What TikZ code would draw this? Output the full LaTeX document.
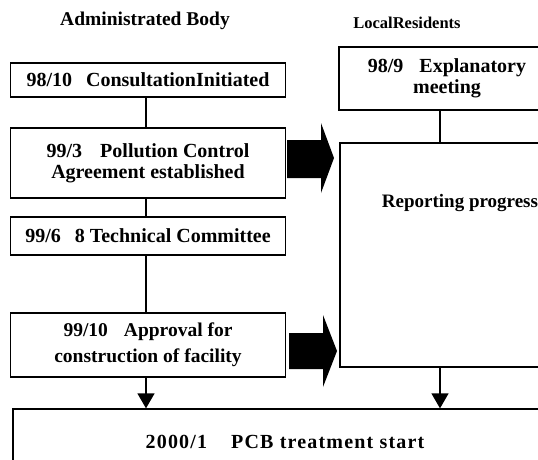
\documentclass[tikz,border=0pt]{standalone}
\usepackage{fontspec}
\setmainfont{Liberation Serif}
\usetikzlibrary{arrows.meta}
\tikzset{
  box/.style={draw, line width=1.3pt, inner sep=0pt, align=center, font=\bfseries\fontsize{20}{21}\selectfont},
  conn/.style={line width=1.3pt},
  arr/.style={line width=1.3pt, -{Triangle[width=17pt,length=15pt]}},
  title/.style={inner sep=0pt, anchor=base, font=\bfseries\fontsize{19.5}{20}\selectfont},
  bigarrow/.style={fill=black, draw=none}
}
\begin{document}
\begin{tikzpicture}[x=1pt,y=-1pt]
\useasboundingbox (0,0) rectangle (538,459);
\clip (0,0) rectangle (538,459);
% column titles
\node[title] (t1) at (145,25) {Administrated Body};
\node[title, font=\bfseries\fontsize{16.5}{18}\selectfont] (t2) at (407,28) {LocalResidents};
% left column
\node[box, minimum width=275pt, minimum height=34pt] (b1) at (148,80) {98/10\hspace{14pt}ConsultationInitiated};
\node[box, minimum width=275pt, minimum height=70pt] (b2) at (148,163) {99/3\hspace{18pt}Pollution Control\\Agreement established};
\node[box, minimum width=275pt, minimum height=38pt] (b3) at (148,236) {99/6\hspace{14pt}8 Technical Committee};
\node[box, minimum width=275pt, minimum height=64pt, font=\bfseries\fontsize{19.5}{26}\selectfont] (b4) at (148,345) {99/10\hspace{16pt}Approval for\\construction of facility};
% right column
\node[box, minimum width=216pt, minimum height=63pt, font=\bfseries\fontsize{20}{21}\selectfont] (er) at (447,78.5) {98/9\hspace{16pt}Explanatory\\meeting};
\node[box, minimum width=260pt, minimum height=224pt] (rpbox) at (470,255) {};
\node[inner sep=0pt, font=\bfseries\fontsize{19}{20}\selectfont] (rptext) at (460,203) {Reporting progress};
% bottom
\node[box, minimum width=544pt, minimum height=66pt, font=\bfseries\fontsize{20}{21}\selectfont\addfontfeature{LetterSpace=6}] (bot) at (285,442) {2000/1\hspace{24pt}PCB treatment start};
% connector x positions
\coordinate (lx) at (146,0);
\coordinate (rx) at (440,0);
\draw[conn] (b1.south -| lx) -- (b2.north -| lx);
\draw[conn] (b2.south -| lx) -- (b3.north -| lx);
\draw[conn] (b3.south -| lx) -- (b4.north -| lx);
\draw[arr] (b4.south -| lx) -- (bot.north -| lx);
\draw[conn] (er.south -| rx) -- (rpbox.north -| rx);
\draw[arr] (rpbox.south -| rx) -- (bot.north -| rx);
% big block arrows
\fill[bigarrow] (287,140) -- (321,140) -- (321,123) -- (334,158) -- (321,193) -- (321,178) -- (287,178) -- cycle;
\fill[bigarrow] (289,333) -- (323,333) -- (323,315) -- (337,351) -- (323,387) -- (323,369) -- (289,369) -- cycle;
\end{tikzpicture}
\end{document}
